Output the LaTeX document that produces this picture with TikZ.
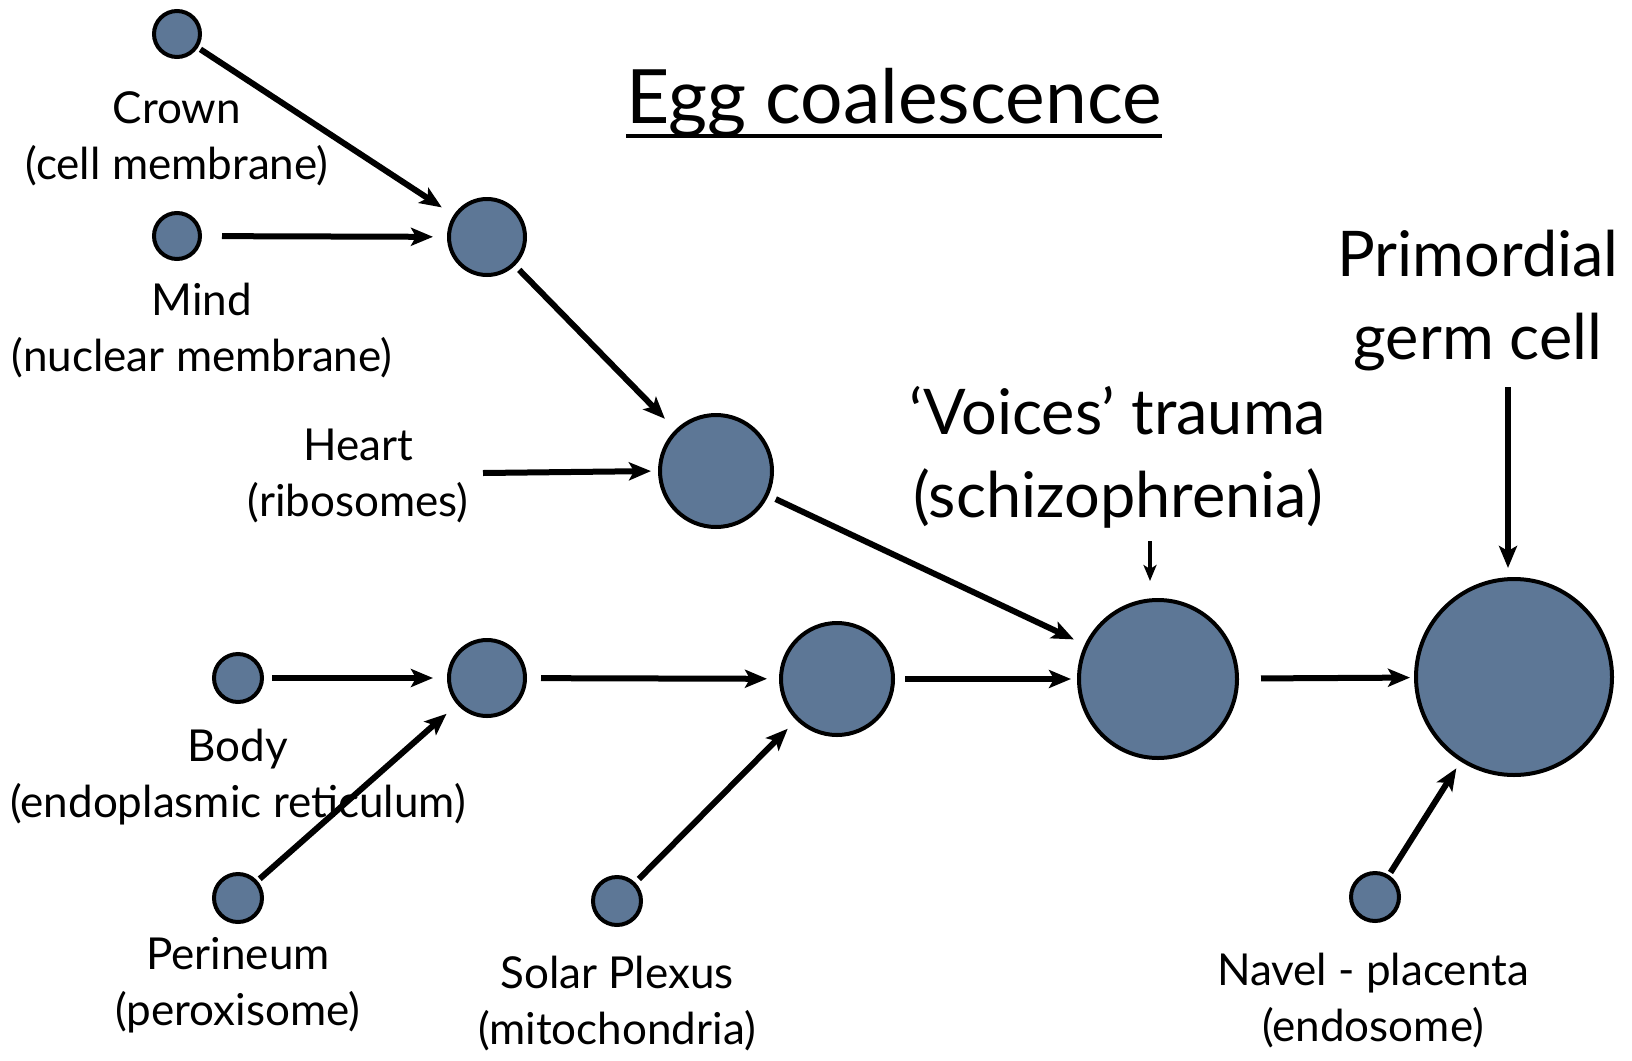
\documentclass[tikz,border=0pt]{standalone}
\usepackage{fontspec}
\setmainfont{Lato}
\usetikzlibrary{arrows.meta}
\definecolor{cellblue}{RGB}{93,119,150}
\tikzset{
  cell/.style={circle, draw=black, line width=4pt, fill=cellblue, inner sep=0pt, minimum size=#1},
  lbl/.style={align=center, inner sep=0pt, font=\fontsize{44}{56}\selectfont},
  biglbl/.style={align=center, inner sep=0pt, font=\fontsize{63}{83}\selectfont},
  flow/.style={line width=6pt, -{Stealth[length=22pt,width=18pt,inset=5pt]}},
  thinflow/.style={line width=3.5pt, -{Stealth[length=16pt,width=13pt,inset=4pt]}}
}
\begin{document}
\begin{tikzpicture}[x=1pt,y=-1pt]
\useasboundingbox (0,0) rectangle (1632,1060);
% cells
\node[cell=46pt] (crown) at (177,34) {};
\node[cell=46pt] (mind) at (177,236) {};
\node[cell=76pt] (a) at (487,237) {};
\node[cell=112pt] (b) at (716,471) {};
\node[cell=48pt] (body) at (238,678) {};
\node[cell=48pt] (perineum) at (238,898) {};
\node[cell=76pt] (c) at (487,678) {};
\node[cell=48pt] (solar) at (617,901) {};
\node[cell=112pt] (d) at (837,679) {};
\node[cell=158pt] (e) at (1158,679) {};
\node[cell=48pt] (navel) at (1375,897) {};
\node[cell=196pt] (f) at (1514,677) {};
% labels
\node[lbl] (crownl) at (177,139) {Crown\\(cell membrane)};
\node[lbl] (mindl) at (202,331) {Mind\\(nuclear membrane)};
\node[lbl] (heartl) at (358,476) {Heart\\(ribosomes)};
\node[lbl] (bodyl) at (238,777) {Body\\(endoplasmic reticulum)};
\node[lbl] (perineuml) at (238,985) {Perineum\\(peroxisome)};
\node[lbl] (solarl) at (617,1004) {Solar Plexus\\(mitochondria)};
\node[lbl] (navell) at (1373,1001) {Navel - placenta\\(endosome)};
\node[biglbl] (voices) at (1118,457) {‘Voices’ trauma\\(schizophrenia)};
\node[biglbl] (prim) at (1478,301) {Primordial\\germ cell};
\node[inner sep=0pt, font=\fontsize{75}{90}\selectfont, anchor=base] (title) at (894,123) {Egg coalescence};
\draw[line width=4pt] (title.south west |- 0,136) -- (title.south east |- 0,136);
% free ends
\coordinate (hs) at (483,473);
\coordinate (vs) at (1150,541);
\coordinate (ve) at (1150,581);
\coordinate (ps) at (1508,387);
\coordinate (pe) at (1508,568);
% arrows
\draw[flow, shorten <=3pt, shorten >=14pt] (crown) -- (a);
\draw[flow, shorten <=20pt, shorten >=14pt] (mind) -- (a);
\draw[flow, shorten <=6pt, shorten >=15pt] (a) -- (b);
\draw[flow, shorten >=7pt] (hs) -- (b.west);
\draw[flow, shorten <=8pt, shorten >=12pt] (b) -- (e);
\draw[flow, shorten <=8pt, shorten >=14pt] (body) -- (c);
\draw[flow, shorten <=3pt, shorten >=14pt] (perineum) -- (c);
\draw[flow, shorten <=14pt, shorten >=12pt] (c) -- (d);
\draw[flow, shorten <=5pt, shorten >=12pt] (solar) -- (d);
\draw[flow, shorten <=10pt, shorten >=6pt] (d) -- (e);
\draw[flow, shorten <=22pt, shorten >=4pt] (e) -- (f);
\draw[flow, shorten <=3pt, shorten >=8pt] (navel) -- (f);
\draw[thinflow] (vs) -- (ve);
\draw[flow] (ps) -- (pe);
\end{tikzpicture}
\end{document}
